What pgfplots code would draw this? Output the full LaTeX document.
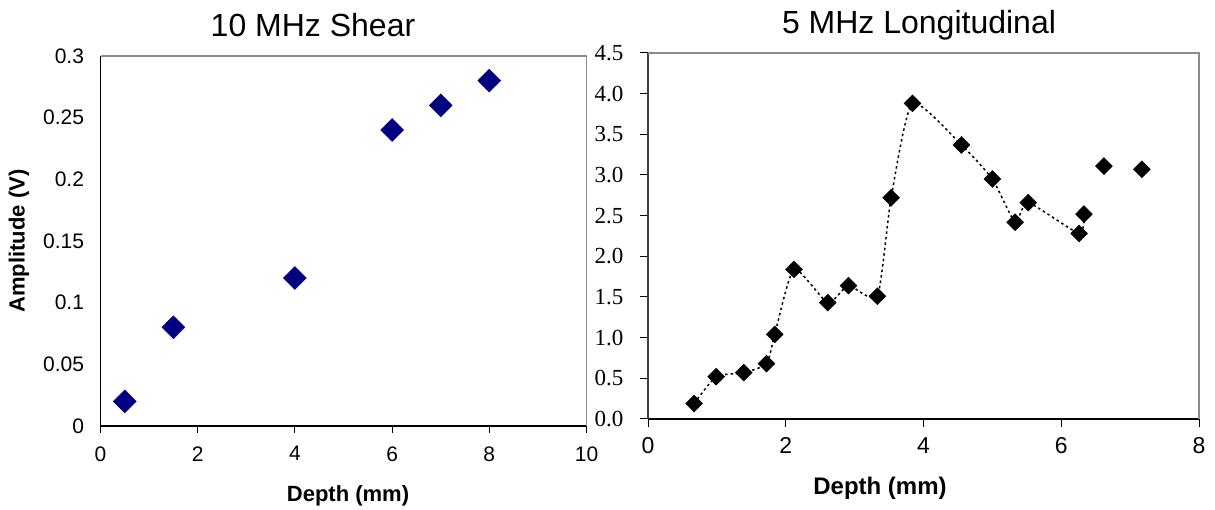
\documentclass[border=0pt]{standalone}
\usepackage{pgfplots}
\pgfplotsset{compat=1.18}
\usepackage{fontspec}
\setmainfont{Liberation Sans}
\newfontfamily\serif{Liberation Serif}
\usetikzlibrary{plotmarks}

\definecolor{navyblue}{HTML}{000080}
\definecolor{framegray}{HTML}{8C8C8C}

\pgfplotstableread{
x    y
0.5  0.02
1.5  0.08
4    0.12
6    0.24
7    0.26
8    0.28
}\shear

% longitudinal amplitudes, first 17 points are joined by the dotted curve
\pgfplotstableread{
x     y
0.67  0.19
0.99  0.52
1.39  0.57
1.72  0.68
1.84  1.04
2.12  1.84
2.61  1.43
2.91  1.64
3.33  1.51
3.53  2.72
3.84  3.88
4.55  3.37
5.00  2.95
5.33  2.42
5.52  2.66
6.26  2.28
6.33  2.52
6.62  3.11
7.17  3.07
}\longi

\begin{document}
\begin{tikzpicture}[x=1pt,y=1pt]
\useasboundingbox (0,0) rectangle (1215,510);

% ---- 10 MHz Shear
\begin{axis}[
  at={(100.5pt,84pt)}, anchor=south west,
  scale only axis, width=486pt, height=370pt,
  xmin=0, xmax=10, ymin=0, ymax=0.3,
  xtick={0,2,...,10}, ytick={0,0.05,...,0.3},
  yticklabels={0,0.05,0.1,0.15,0.2,0.25,0.3},
  axis x line*=bottom, axis y line*=left,
  x axis line style={-, black, line width=1.2pt},
  y axis line style={-, black, line width=1.2pt},
  xtick style={black, line width=1pt},
  major tick length=7pt,
  xtick pos=bottom, ytick pos=left,
  ytick style={draw=none},
  tick align=outside,
  /pgf/number format/assume math mode=true,
  tick label style={font=\fontsize{21}{23}\selectfont},
  xticklabel style={yshift=-10pt},
  yticklabel style={xshift=-6pt},
  clip=false,
]
\draw[framegray, line width=1.5pt] (rel axis cs:0,1) -- (rel axis cs:1,1) -- (rel axis cs:1,0);
\addplot[only marks, mark=diamond*, mark size=11.5pt, mark options={xscale=1.33, fill=navyblue, draw=navyblue}]
  table[x=x, y=y] {\shear};
\end{axis}
\node[font=\fontsize{32}{34}\selectfont] at (313,485) {10 MHz Shear};
\node[font=\bfseries\fontsize{22}{24}\selectfont, rotate=90] at (19,269) {Amplitude (V)};
\node[font=\bfseries\fontsize{22}{24}\selectfont] at (348,14) {Depth (mm)};

% ---- 5 MHz Longitudinal
\begin{axis}[
  at={(648pt,91pt)}, anchor=south west,
  scale only axis, width=551pt, height=366pt,
  xmin=0, xmax=8, ymin=0, ymax=4.5,
  xtick={0,2,...,8}, ytick={0,0.5,...,4.5},
  yticklabels={0.0,0.5,1.0,1.5,2.0,2.5,3.0,3.5,4.0,4.5},
  axis x line*=bottom, axis y line*=left,
  x axis line style={-, black, line width=1.2pt},
  y axis line style={-, black!75, line width=1.5pt},
  tick style={black, line width=1pt},
  major tick length=8pt,
  tick align=outside,
  /pgf/number format/assume math mode=true,
  xticklabel style={font=\fontsize{23}{25}\selectfont, yshift=-7pt},
  yticklabel style={font=\serif\fontsize{23}{25}\selectfont, xshift=-13pt},
  clip=false,
]
\draw[framegray, line width=1.5pt] (rel axis cs:0,1) -- (rel axis cs:1,1) -- (rel axis cs:1,0);
\addplot[black, line width=1.5pt, dash pattern=on 2.5pt off 3pt, smooth, tension=0.35]
  table[x=x, y=y, restrict expr to domain={\coordindex}{0:16}] {\longi};
\addplot[only marks, mark=diamond*, mark size=8.5pt, mark options={xscale=1.33, fill=black, draw=black}]
  table[x=x, y=y] {\longi};
\end{axis}
\node[font=\fontsize{32}{34}\selectfont] at (919,485) {5 MHz Longitudinal};
\node[font=\bfseries\fontsize{24}{26}\selectfont] at (880,22) {Depth (mm)};
\end{tikzpicture}
\end{document}
